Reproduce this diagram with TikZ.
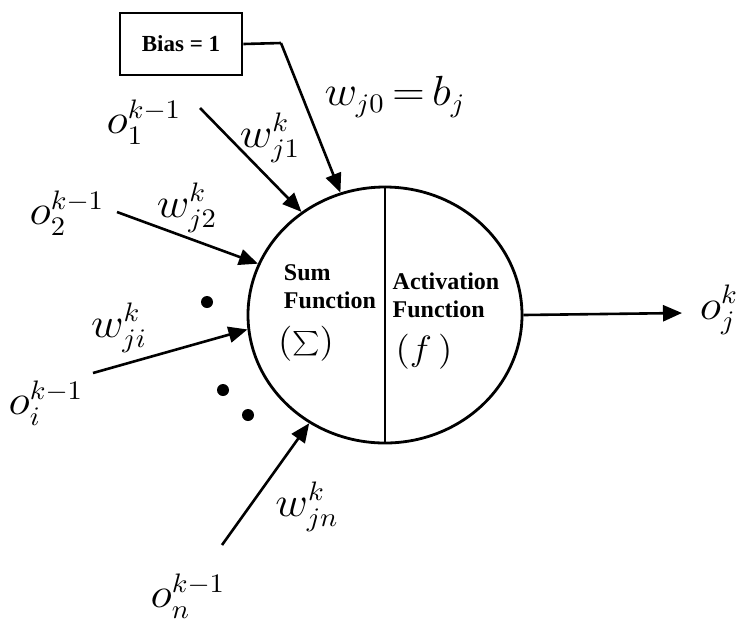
\documentclass[tikz,border=0pt]{standalone}
\usepackage{fontspec}
\setmainfont{Liberation Serif}
\usetikzlibrary{shapes.geometric, arrows.meta, positioning}
\DeclareMathSizes{19}{19}{11}{8}
\DeclareMathSizes{14}{14}{9}{7}
\newcommand{\mlab}[1]{\scalebox{1.3}[1.22]{$#1$}}
\tikzset{
    neuron/.style={ellipse, draw, line width=1.4pt, minimum width=137pt,
                   minimum height=128pt, inner sep=0pt},
    biasbox/.style={rectangle, draw, line width=1.3pt, minimum width=61pt,
                    minimum height=31pt, font=\fontsize{11.5}{13}\selectfont\bfseries},
    funclabel/.style={align=left, font=\fontsize{12}{14}\selectfont\bfseries, inner sep=0pt},
    mathlabel/.style={font=\fontsize{19}{22}\selectfont, inner sep=0pt},
    symlabel/.style={font=\fontsize{14}{16}\selectfont, inner sep=0pt},
    wire/.style={-{Triangle[length=9.5pt, width=8pt]}, line width=1.3pt},
    dot/.style={circle, fill, minimum size=6pt, inner sep=0pt},
}

\begin{document}
\begin{tikzpicture}[x=0.5pt, y=-0.5pt]
    \useasboundingbox (0,0) rectangle (743,623);

    % Neuron
    \node[neuron] (neuron) at (385,315) {};
    \draw[line width=1.3pt] (neuron.north) -- (neuron.south);
    \node[funclabel] (sum) at (330,287) {Sum\\Function};
    \node[symlabel] (sumsym) at (306,344) {\mlab{(\sum)}};
    \node[funclabel] (act) at (446,295) {Activation\\Function};
    \node[symlabel] (actsym) at (424,352) {\mlab{(f\,)}};

    % Bias
    \node[biasbox] (bias) at (181,44) {Bias = 1};
    \coordinate (bend) at (281,43);
    \node[mathlabel] (w0) at (395,97) {\mlab{w_{j0}\,{=}\,b_j}};

    % Inputs
    \coordinate (s1) at (200,108);
    \coordinate (s2) at (117,212);
    \coordinate (si) at (93,373);
    \coordinate (sn) at (222,545);
    \node[mathlabel] (o1) at (144,122) {\mlab{o_1^{k-1}}};
    \node[mathlabel] (w1) at (270,138) {\mlab{w_{j1}^k}};
    \node[mathlabel] (o2) at (67,213) {\mlab{o_2^{k-1}}};
    \node[mathlabel] (w2) at (187,208) {\mlab{w_{j2}^k}};
    \node[mathlabel] (wi) at (119,328) {\mlab{w_{ji}^k}};
    \node[mathlabel] (oi) at (46,403) {\mlab{o_i^{k-1}}};
    \node[mathlabel] (wn) at (307,507) {\mlab{w_{jn}^k}};
    \node[mathlabel] (on) at (188,596) {\mlab{o_n^{k-1}}};

    % Dots
    \node[dot] (d1) at (207,302) {};
    \node[dot] (d2) at (223,390) {};
    \node[dot] (d3) at (248,415) {};

    % Output
    \coordinate (out) at (682,313);
    \node[mathlabel] (oj) at (719,310) {\mlab{o_j^k}};

    % Arrows
    \draw[line width=1.3pt] (bias.east) -- (bend);
    \draw[wire] (bend) -- (neuron.110);
    \draw[wire] (s1) -- (neuron.129.5);
    \draw[wire] (s2) -- (neuron.158.7);
    \draw[wire] (si) -- (neuron.186.2);
    \draw[wire] (sn) -- (neuron.235);
    \draw[wire] (neuron.east) -- (out);
\end{tikzpicture}
\end{document}
